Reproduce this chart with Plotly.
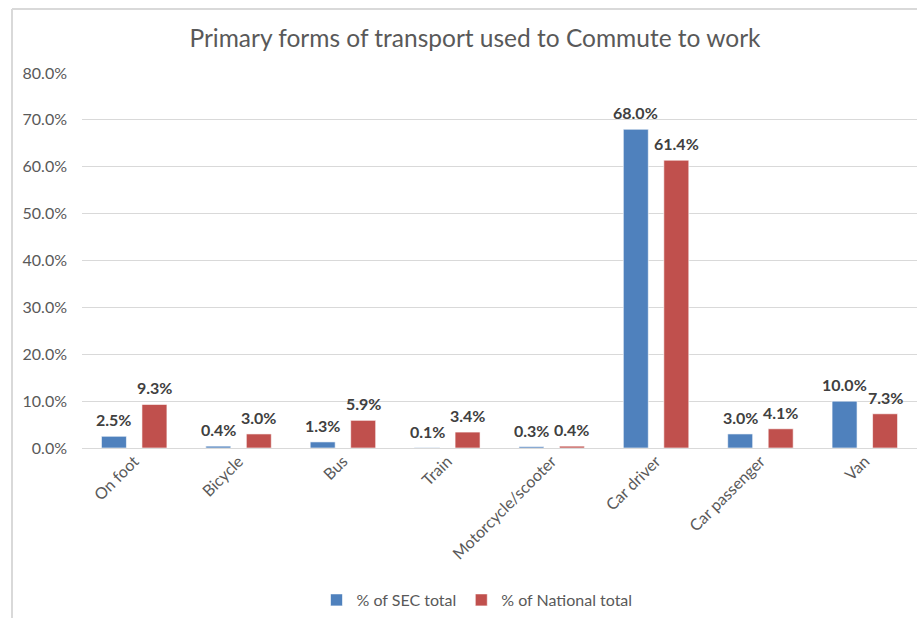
import plotly.graph_objects as go

categories = ["On foot", "Bicycle", "Bus", "Train", "Motorcycle/scooter",
              "Car driver", "Car passenger", "Van"]
sec_total = [0.025, 0.004, 0.013, 0.001, 0.003, 0.680, 0.030, 0.100]
national_total = [0.093, 0.030, 0.059, 0.034, 0.004, 0.614, 0.041, 0.073]
y_ticks = [0.0, 0.1, 0.2, 0.3, 0.4, 0.5, 0.6, 0.7, 0.8]

W, H = 917, 618
L, R, T, B = 82, 0, 73, 170
FONT = "Lato, 'Open Sans', sans-serif"
GREY = "#595959"
BARGAP = 0.224
BARGROUPGAP = 0.383

def pct(v):
    return f"{v * 100:.1f}%"

series = [("% of SEC total", sec_total, "#4F81BD"),
          ("% of National total", national_total, "#C0504D")]

fig = go.Figure()
for name, vals, color in series:
    fig.add_trace(go.Bar(
        x=categories, y=vals, name=name,
        marker=dict(color=color, line=dict(color="rgba(255,255,255,0.6)", width=1)),
        hovertemplate="%{x}: %{y:.1%}<extra>" + name + "</extra>",
    ))

# value labels above each bar, centred on the bar within its group
slot = (1 - BARGAP) / len(series)
annotations = []
for k, (name, vals, color) in enumerate(series):
    offset = (k - (len(series) - 1) / 2) * slot
    for i, v in enumerate(vals):
        annotations.append(dict(
            x=i + offset, y=v, xref="x", yref="y", text=pct(v),
            showarrow=False, xanchor="center", yanchor="bottom", yshift=5,
            font=dict(family=FONT, size=16, color="#404040", weight="bold"),
        ))

plot_w = W - L - R
plot_h = H - T - B

fig.update_layout(
    width=W, height=H,
    margin=dict(l=L, r=R, t=T, b=B),
    paper_bgcolor="white", plot_bgcolor="white",
    barmode="group", bargap=BARGAP, bargroupgap=BARGROUPGAP,
    font=dict(family=FONT, color=GREY),
    title=dict(text="Primary forms of transport used to Commute to work",
               x=475 / W, xanchor="center", y=1 - 38 / H, yanchor="middle",
               yref="container",
               font=dict(family=FONT, size=24.5, color=GREY)),
    xaxis=dict(tickangle=-45, tickfont=dict(family=FONT, size=16, color=GREY),
               showgrid=False, showline=False, ticks=""),
    yaxis=dict(range=[0, 0.8], tickvals=y_ticks, tickformat=".1%",
               tickfont=dict(family=FONT, size=16, color=GREY),
               showgrid=True, gridcolor="#D9D9D9", gridwidth=1,
               zeroline=True, zerolinecolor="#D9D9D9", zerolinewidth=1,
               showline=False, ticks="", ticklabelstandoff=14),
    legend=dict(orientation="h", x=(477 - L) / plot_w, xanchor="center",
                y=-(600 - (H - B)) / plot_h, yanchor="middle",
                font=dict(family=FONT, size=16, color=GREY),
                itemwidth=30, traceorder="normal"),
    annotations=annotations,
    showlegend=True,
)

# light chart-area border on the top and left edges
top_y = 1 + (T - 9) / plot_h
left_x = -(L - 12) / plot_w
fig.add_shape(type="line", xref="paper", yref="paper",
              x0=left_x, x1=1.0, y0=top_y, y1=top_y,
              line=dict(color="#D9D9D9", width=2))
fig.add_shape(type="line", xref="paper", yref="paper",
              x0=left_x, x1=left_x, y0=top_y, y1=-B / plot_h,
              line=dict(color="#D9D9D9", width=2))

fig.write_html("out.html")
